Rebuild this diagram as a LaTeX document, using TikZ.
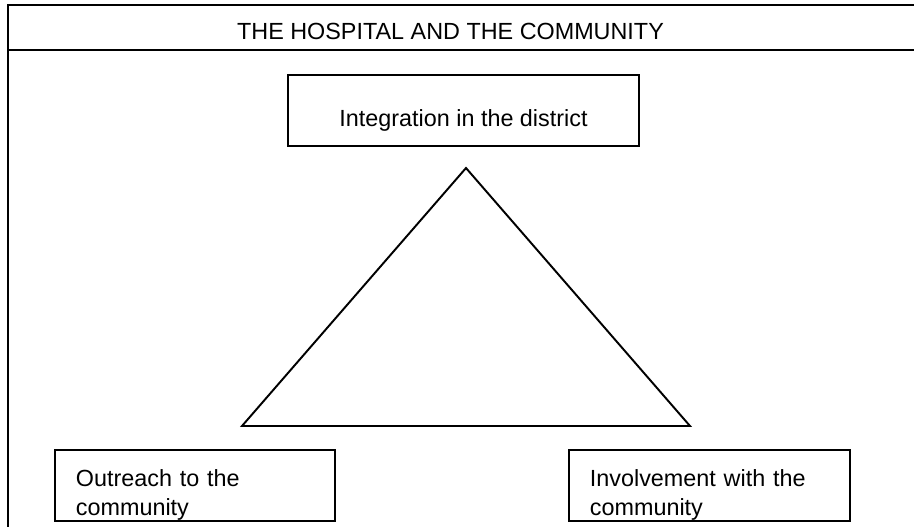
\documentclass[tikz,border=0pt]{standalone}
\usepackage{fontspec}
\setmainfont{Liberation Sans}

\begin{document}
\begin{tikzpicture}
	[x=0.02cm,y=-0.02cm,line width=1.1pt,
	bx/.style={draw=black,inner xsep=0.42cm,inner ysep=0pt,align=left},
	font=\fontsize{13.3pt}{16pt}\selectfont]
	\useasboundingbox (0,0) rectangle (914,527);
	%%%%% FRAME
	\draw (8,527) -- (8,5) -- (914,5);
	\draw (8,50) -- (914,50);
	\node[anchor=base] (titulo) at (450.5,40) {THE HOSPITAL AND THE COMMUNITY};
	%%%%% TOP
	\node[bx,anchor=base,align=center,minimum width=7.02cm,text height=1.04cm,text depth=0.38cm] (integ) at (463.5,127) {Integration in the district};
	%%%%% TRIANGLE
	\coordinate (apex) at (466,168);
	\coordinate (baseL) at (242,426);
	\coordinate (baseR) at (690,426);
	\draw (apex) -- (baseL) -- (baseR) -- cycle;
	%%%%% BOTTOM
	\node[bx,anchor=north west,text width=4.76cm,text height=0.74cm,text depth=0.68cm] (outreach) at (54,449) {Outreach to the\\community};
	\node[bx,anchor=north west,text width=4.78cm,text height=0.74cm,text depth=0.68cm] (involve) at (568,449) {Involvement with the\\community};
\end{tikzpicture}
\end{document}
